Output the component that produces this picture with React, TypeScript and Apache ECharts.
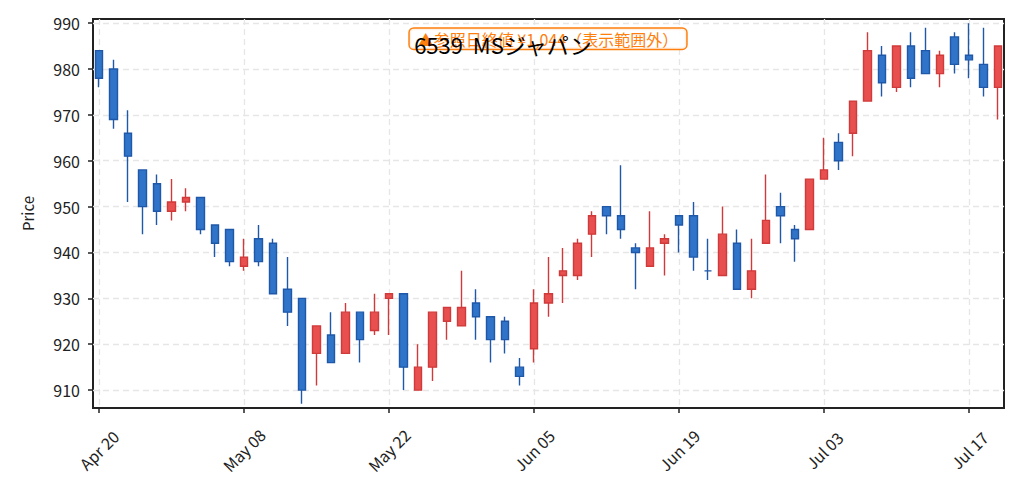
import React, { useEffect, useRef } from "react";
import * as echarts from "echarts";

// Trading days (2026, TSE calendar)
const dates = [
  "Apr 20", "Apr 21", "Apr 22", "Apr 23", "Apr 24", "Apr 27", "Apr 28", "Apr 30", "May 01", "May 07",
  "May 08", "May 11", "May 12", "May 13", "May 14", "May 15", "May 18", "May 19", "May 20", "May 21",
  "May 22", "May 25", "May 26", "May 27", "May 28", "May 29", "Jun 01", "Jun 02", "Jun 03", "Jun 04",
  "Jun 05", "Jun 08", "Jun 09", "Jun 10", "Jun 11", "Jun 12", "Jun 15", "Jun 16", "Jun 17", "Jun 18",
  "Jun 19", "Jun 22", "Jun 23", "Jun 24", "Jun 25", "Jun 26", "Jun 29", "Jun 30", "Jul 01", "Jul 02",
  "Jul 03", "Jul 06", "Jul 07", "Jul 08", "Jul 09", "Jul 10", "Jul 13", "Jul 14", "Jul 15", "Jul 16",
  "Jul 17", "Jul 21", "Jul 22",
];

const opens = [
  984, 980, 966, 958, 955, 949, 951, 952, 946, 945,
  937, 943, 942, 932, 930, 918, 922, 918, 927, 923,
  930, 931, 910, 915, 925, 924, 929, 926, 925, 915,
  919, 929, 935, 935, 944, 950, 948, 941, 937, 942,
  948, 948, 936, 935, 942, 932, 942, 950, 945, 945,
  956, 964, 966, 973, 983, 976, 985, 984, 979, 987,
  983, 981, 976,
];
const closes = [
  978, 969, 961, 950, 949, 951, 952, 945, 942, 938,
  939, 938, 931, 927, 910, 924, 916, 927, 921, 927,
  931, 915, 915, 927, 928, 928, 926, 921, 921, 913,
  929, 931, 936, 942, 948, 948, 945, 940, 941, 943,
  946, 939, 936, 944, 932, 936, 947, 948, 943, 956,
  958, 960, 973, 984, 977, 985, 978, 979, 983, 981,
  982, 976, 985,
];
const lows = [
  976, 967, 951, 944, 946, 947, 949, 944, 939, 937,
  936, 937, 931, 924, 907, 911, 916, 918, 916, 922,
  922, 910, 910, 912, 921, 924, 921, 916, 918, 911,
  916, 926, 929, 934, 939, 944, 943, 932, 937, 935,
  940, 936, 934, 935, 932, 930, 942, 942, 938, 945,
  956, 958, 961, 973, 974, 975, 976, 979, 976, 979,
  978, 974, 969,
];
const highs = [
  984, 982, 971, 958, 957, 956, 954, 952, 946, 945,
  943, 946, 943, 939, 930, 924, 927, 929, 927, 931,
  931, 931, 920, 927, 928, 936, 932, 926, 926, 917,
  932, 939, 941, 943, 949, 950, 959, 942, 949, 944,
  948, 951, 943, 950, 945, 943, 957, 953, 946, 956,
  965, 966, 973, 988, 985, 985, 988, 989, 984, 988,
  990, 989, 985,
];

const xTickIdx = [0, 10, 20, 30, 40, 50, 60];
const yTicks = [910, 920, 930, 940, 950, 960, 970, 980, 990];

const titleText = "6539  MSジャパン";
const noteText = "▲参照日終値 ¥1,044（表示範囲外）";
const yName = "Price";

const FONT = '"Noto Sans CJK JP", "Noto Sans", sans-serif';

export default function App() {
  const ref = useRef<HTMLDivElement>(null);

  useEffect(() => {
    const el = ref.current;
    if (!el) return;
    const chart = echarts.init(el, null, { renderer: "svg" });
    const data = dates.map((_, i) => [i, opens[i], closes[i], lows[i], highs[i]]);
    const tickLine = { color: "#222", width: 1.5 };
    const splitLine = { show: true, lineStyle: { color: "#e6e6e6", type: [6, 4], width: 1.3 } };

    chart.setOption({
      animation: false,
      backgroundColor: "#ffffff",
      grid: {
        left: 93,
        top: 19,
        right: 15,
        bottom: 89,
        show: true,
        borderColor: "#222",
        borderWidth: 2,
        backgroundColor: "transparent",
        containLabel: false,
        outerBoundsMode: "none",
      },
      xAxis: {
        type: "value",
        min: -0.4,
        max: 62.4,
        axisLine: { show: false, onZero: false },
        axisTick: { show: true, customValues: xTickIdx, length: 5, lineStyle: tickLine },
        axisLabel: {
          customValues: xTickIdx,
          formatter: (v: number) => dates[Math.round(v)] ?? "",
          rotate: 45,
          align: "center",
          verticalAlign: "middle",
          margin: 42,
          fontSize: 16,
          color: "#222",
          fontFamily: FONT,
        },
        splitLine,
      },
      yAxis: {
        type: "value",
        min: 906.1,
        max: 990.9,
        name: yName,
        nameLocation: "middle",
        nameGap: 58,
        nameRotate: 90,
        nameTextStyle: { fontSize: 15, color: "#222", fontFamily: FONT },
        axisLine: { show: false, onZero: false },
        axisTick: { show: true, customValues: yTicks, length: 5, lineStyle: tickLine },
        axisLabel: {
          customValues: yTicks,
          fontSize: 16,
          color: "#222",
          margin: 13,
          fontFamily: FONT,
        },
        splitLine,
      },
      series: [
        {
          type: "candlestick",
          data,
          barWidth: 8,
          clip: true,
          itemStyle: {
            color: "#e84f4f",
            color0: "#2f74c8",
            borderColor: "#d03a3a",
            borderColor0: "#1f58a8",
            borderColorDoji: "#1f58a8",
            borderWidth: 1.4,
          },
        },
      ],
      graphic: [
        {
          type: "text",
          z: 50,
          x: 548,
          y: 38.7,
          style: {
            text: noteText,
            fill: "#ff7f0e",
            fontSize: 16,
            fontFamily: FONT,
            align: "center",
            verticalAlign: "middle",
            textAlign: "center",
            textVerticalAlign: "middle",
            backgroundColor: "rgba(255,255,255,0.9)",
            borderColor: "#ff7f0e",
            borderWidth: 1.5,
            borderRadius: 4,
            padding: [2, 8],
          },
        },
        {
          type: "text",
          z: 60,
          x: 503,
          y: 44,
          style: {
            text: titleText,
            fill: "#000",
            fontSize: 22,
            fontFamily: FONT,
            align: "center",
            verticalAlign: "middle",
            textAlign: "center",
            textVerticalAlign: "middle",
          },
        },
      ],
    });

    return () => chart.dispose();
  }, []);

  return (
    <div
      ref={ref}
      style={{ position: "fixed", left: 0, top: 0, width: 1019, height: 497, background: "#fff" }}
    />
  );
}
